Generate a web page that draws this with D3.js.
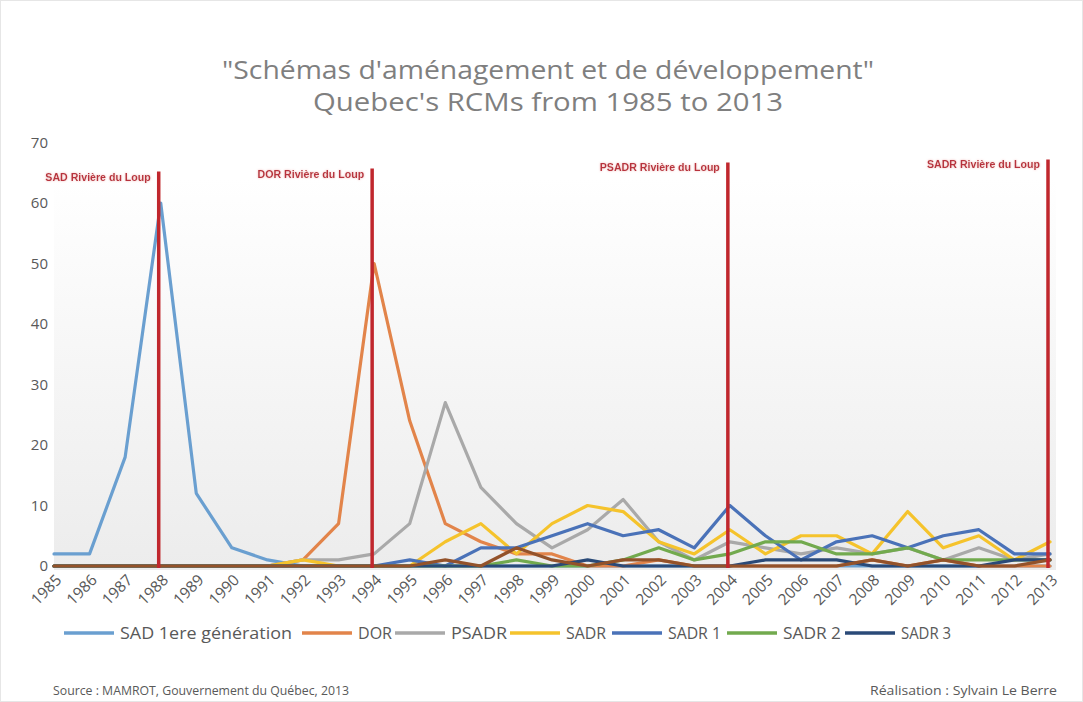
<!DOCTYPE html>
<html><head><meta charset="utf-8">
<script src="https://cdn.jsdelivr.net/npm/d3@7"></script>
<style>body{margin:0;background:#fff}svg{display:block}</style>
</head><body>
<svg id="chart" width="1083" height="702"></svg>
<script>
// ---------- DATA ----------
const years = ["1985","1986","1987","1988","1989","1990","1991","1992","1993","1994","1995","1996","1997","1998","1999","2000","2001","2002","2003","2004","2005","2006","2007","2008","2009","2010","2011","2012","2013"];
const yTicks = [0,10,20,30,40,50,60,70];
const seriesNames = ["SAD 1ere génération","DOR","PSADR","SADR","SADR 1","SADR 2","SADR 3",""];
const sad1   = [2,2,18,60,12,3,1,0,0,0,0,0,0,0,0,0,0,0,0,0,0,0,0,0,0,0,0,0,0];
const dor    = [0,0,0,0,0,0,0,1,7,50,24,7,4,2,2,0,0,1,0,0,0,0,0,1,0,1,0,0,0];
const psadr  = [0,0,0,0,0,0,0,1,1,2,7,27,13,7,3,6,11,4,1,4,3,2,3,2,3,1,3,1,2];
const sadr   = [0,0,0,0,0,0,0,1,0,0,0,4,7,2,7,10,9,4,2,6,2,5,5,2,9,3,5,1,4];
const sadr1  = [0,0,0,0,0,0,0,0,0,0,1,0,3,3,5,7,5,6,3,10,5,1,4,5,3,5,6,2,2];
const sadr2  = [0,0,0,0,0,0,0,0,0,0,0,0,0,1,0,0,1,3,1,2,4,4,2,2,3,1,1,1,1];
const sadr3  = [0,0,0,0,0,0,0,0,0,0,0,0,0,0,0,1,0,0,0,0,1,1,1,0,0,0,0,1,1];
const other  = [0,0,0,0,0,0,0,0,0,0,0,1,0,3,1,0,1,1,0,0,0,0,0,1,0,1,0,0,1];
const markerYears  = ["1988","1994","2004","2013"];
const markerLabels = ["SAD Rivière du Loup","DOR Rivière du Loup","PSADR Rivière du Loup","SADR Rivière du Loup"];
const markerTops   = [65.2, 65.7, 66.7, 67.2];
const titleLines = ["\"Schémas d'aménagement et de développement\"", "Quebec's RCMs from 1985 to 2013"];
const sourceText = "Source : MAMROT, Gouvernement du Québec, 2013";
const creditText = "Réalisation : Sylvain Le Berre";

// ---------- STYLE ----------
const colors = ["#6a9fd0","#e2844a","#a9a9a9","#f5c32c","#4a72b8","#72aa4e","#2a4a78","#93522a"];
const allSeries = [sad1,dor,psadr,sadr,sadr1,sadr2,sadr3,other];

const svg = d3.select("#chart");
const pLeft = 54, pRight = 1050, pTop = 142.5, pBottom = 566;

const defs = svg.append("defs");
const grad = defs.append("linearGradient").attr("id","bg").attr("x1",0).attr("y1",0).attr("x2",0).attr("y2",1);
grad.append("stop").attr("offset","0%").attr("stop-color","#ffffff");
grad.append("stop").attr("offset","100%").attr("stop-color","#ececec");
const glow = defs.append("filter").attr("id","glow").attr("x","-10%").attr("y","-50%").attr("width","120%").attr("height","200%");
glow.append("feGaussianBlur").attr("in","SourceAlpha").attr("stdDeviation",1.2).attr("result","b");
glow.append("feFlood").attr("flood-color","#f2b8b8").attr("result","f");
glow.append("feComposite").attr("in","f").attr("in2","b").attr("operator","in").attr("result","g");
const fm = glow.append("feMerge"); fm.append("feMergeNode").attr("in","g"); fm.append("feMergeNode").attr("in","SourceGraphic");

// outer border
svg.append("rect").attr("x",0.5).attr("y",0.5).attr("width",1082).attr("height",701)
  .attr("fill","#fff").attr("stroke","#e6e6e6");

const x = d3.scalePoint().domain(years).range([pLeft, pRight]);
const y = d3.scaleLinear().domain([0,70]).range([pBottom, pTop]);

// plot background
svg.append("rect").attr("x",pLeft).attr("y",y(64)).attr("width",pRight-pLeft+6).attr("height",pBottom-y(64)+4)
  .attr("fill","url(#bg)");

// title
svg.selectAll("text.title").data(titleLines).join("text").attr("class","title")
  .attr("x",548).attr("y",(d,i)=>79+i*32).attr("text-anchor","middle")
  .attr("font-family","Open Sans, sans-serif").attr("font-size",25).attr("fill","#7f7f7f")
  .attr("textLength",(d,i)=>i===0?652:470).attr("lengthAdjust","spacingAndGlyphs")
  .text(d=>d);

// y axis
const yAxis = d3.axisLeft(y).tickValues(yTicks).tickSize(0).tickPadding(0);
const gy = svg.append("g").attr("transform",`translate(${pLeft-6},0)`).call(yAxis);
gy.select(".domain").remove();
gy.selectAll("text").attr("font-family","Open Sans, sans-serif").attr("font-size",15).attr("fill","#595959");

// x axis
const xAxis = d3.axisBottom(x).tickSize(0).tickPadding(0);
const gx = svg.append("g").attr("transform",`translate(0,${pBottom})`).call(xAxis);
gx.select(".domain").remove();
gx.selectAll("text").attr("font-family","Open Sans, sans-serif").attr("font-size",15.5).attr("fill","#595959")
  .attr("text-anchor","end").attr("dy",0)
  .attr("transform","translate(8,15) rotate(-45)");

// lines
const line = d3.line().x((d,i)=>x(years[i])).y(d=>y(d));
svg.append("g").selectAll("path").data(allSeries).join("path")
  .attr("d",d=>line(d)).attr("fill","none")
  .attr("stroke",(d,i)=>colors[i]).attr("stroke-width",3.2)
  .attr("stroke-linejoin","round").attr("stroke-linecap","round");

// marker lines
const mk = svg.append("g");
mk.selectAll("line").data(markerYears).join("line")
  .attr("x1",d=>x(d)-2).attr("x2",d=>x(d)-2)
  .attr("y1",(d,i)=>y(markerTops[i])).attr("y2",pBottom+2)
  .attr("stroke","#c0272d").attr("stroke-width",3.5);
mk.selectAll("text").data(markerLabels).join("text")
  .attr("x",(d,i)=>x(markerYears[i])-10).attr("y",(d,i)=>y(markerTops[i])+9)
  .attr("text-anchor","end").attr("font-family","Liberation Sans, Arial, sans-serif")
  .attr("font-weight","bold").attr("font-size",10.6).attr("fill","#b8323c")
  .attr("filter","url(#glow)")
  .text(d=>d);

// legend
const legX = [64,302,395,510,612,727,845];
const legTextW = [172,34,56,40,53,58,50];
const leg = svg.append("g");
seriesNames.slice(0,7).forEach((name,i)=>{
  leg.append("line").attr("x1",legX[i]).attr("x2",legX[i]+50).attr("y1",633).attr("y2",633)
    .attr("stroke",colors[i]).attr("stroke-width",3.5);
  leg.append("text").attr("x",legX[i]+56).attr("y",639)
    .attr("font-family","Open Sans, sans-serif").attr("font-size",16).attr("fill","#595959")
    .attr("textLength",legTextW[i]).attr("lengthAdjust","spacingAndGlyphs").text(name);
});

// footer
svg.append("text").attr("x",53).attr("y",695).attr("font-family","Open Sans, sans-serif")
  .attr("font-size",13).attr("fill","#595959").attr("textLength",296).attr("lengthAdjust","spacingAndGlyphs").text(sourceText);
svg.append("text").attr("x",1057).attr("y",695).attr("text-anchor","end").attr("font-family","Open Sans, sans-serif")
  .attr("font-size",13).attr("fill","#595959").attr("textLength",187).attr("lengthAdjust","spacingAndGlyphs").text(creditText);
</script>
</body></html>
